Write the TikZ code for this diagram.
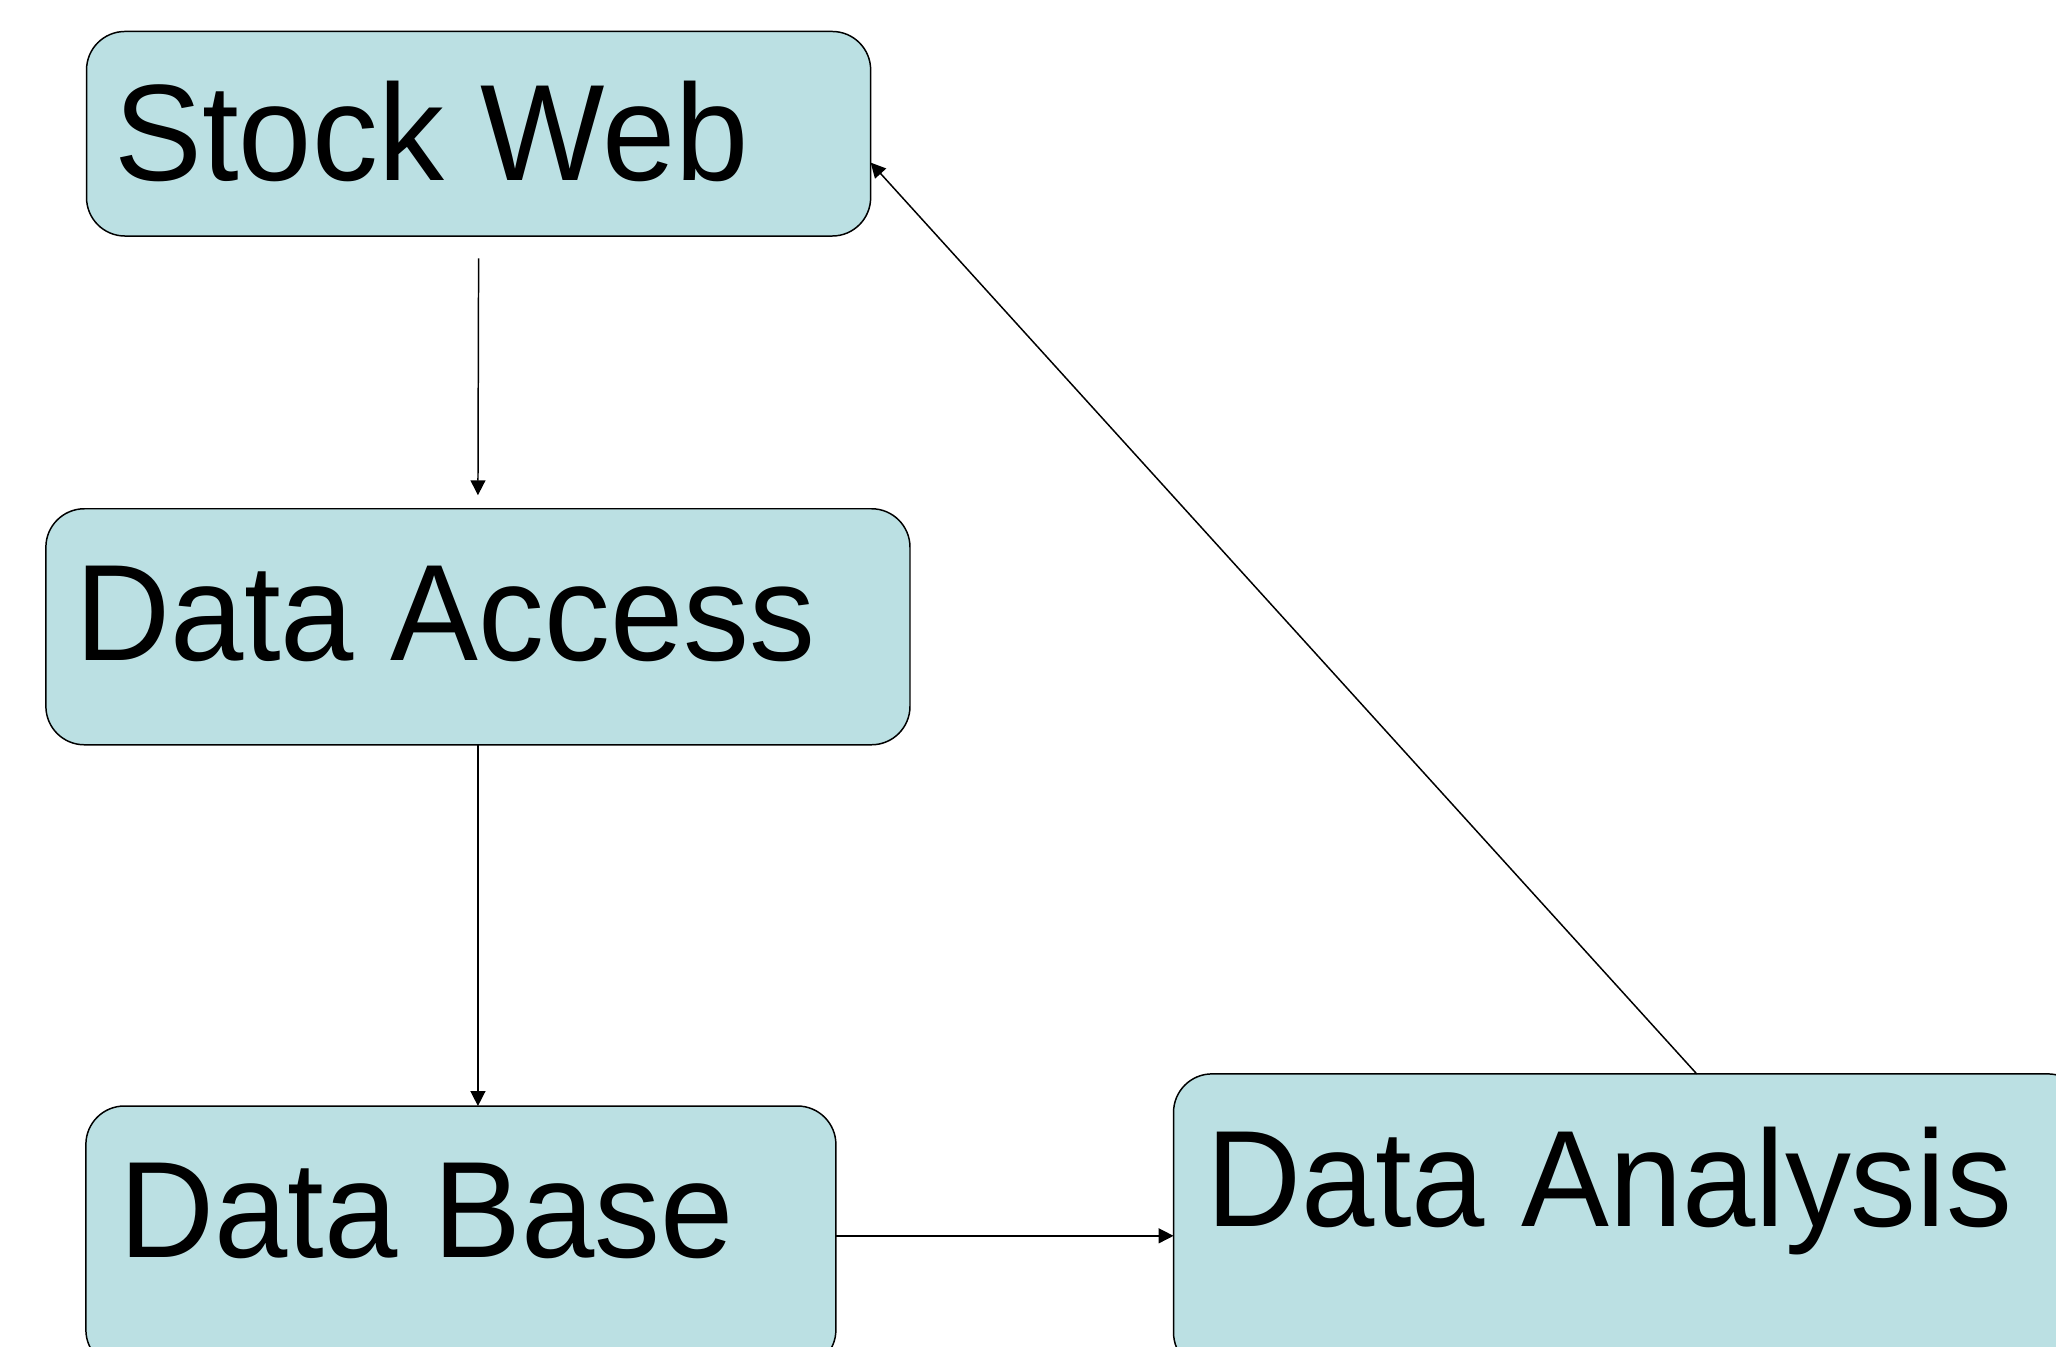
\documentclass[tikz,border=0pt]{standalone}
\usepackage{fontspec}
\setmainfont[FakeStretch=0.96]{Liberation Sans}
\usetikzlibrary{arrows.meta}
\definecolor{boxfill}{RGB}{187,224,227}
\begin{document}
\begin{tikzpicture}[x=0.75pt,y=-0.75pt,
  box/.style={draw=black, line width=0.85pt, fill=boxfill, rounded corners=22pt, inner sep=0pt, outer sep=0pt, anchor=north west},
  lbl/.style={inner sep=0pt, anchor=base west, font=\fontsize{78.5}{94}\selectfont},
  conn/.style={draw=black, line width=0.85pt, -{Triangle[length=8.5pt,width=8.5pt]}}]
\useasboundingbox (0,0) rectangle (1568,1027);
\clip (0,0) rectangle (1568,1027);
% boxes
\node[box, minimum width=448.5pt, minimum height=117pt] (sw) at (66,24) {};
\node[box, minimum width=494.25pt, minimum height=135pt] (dacc) at (35,388) {};
\node[box, minimum width=429pt, minimum height=150pt] (db) at (65.5,843.5) {};
\node[box, minimum width=522pt, minimum height=170pt] (dan) at (895,819) {};
% labels
\node[lbl] (swt) at (87,137.5) {Stock Web};
\node[lbl] (dacct) at (57.5,504) {Data Access};
\node[lbl] (dbt) at (90.5,959) {Data Base};
\node[lbl] (dant) at (920,935.5) {Data Analysis};
% connectors
\draw[conn] ([yshift=-12.75pt]sw.south) -- ([yshift=7.75pt]dacc.north);
\draw[conn] (dacc.south) -- (dacc.south |- db.north);
\draw[conn] ([yshift=-74.25pt]db.north east) -- ([yshift=-74.25pt]db.north east -| dan.west);
\draw[conn] ([xshift=299.25pt]dan.north west) -- ([yshift=-75pt]sw.north east);
\end{tikzpicture}
\end{document}
